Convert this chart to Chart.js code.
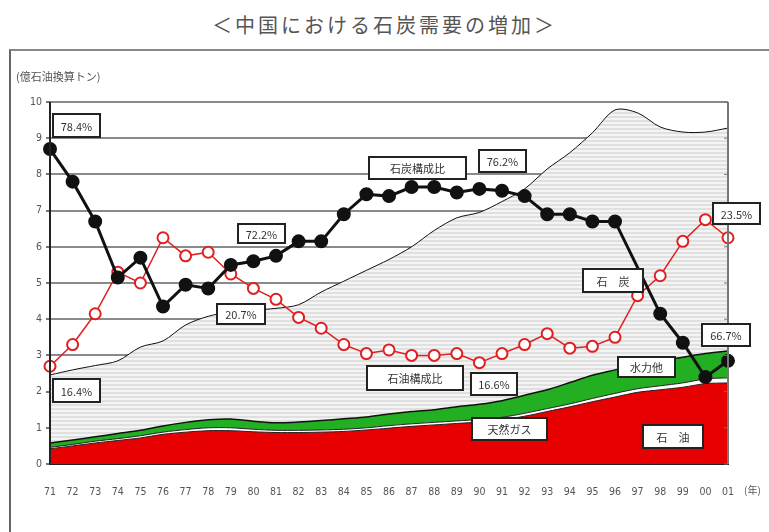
<!DOCTYPE html>
<html>
<head>
<meta charset="utf-8">
<script src="https://cdn.jsdelivr.net/npm/chart.js@4/dist/chart.umd.min.js"></script>
<style>
  body { margin: 0; background: #fff; width: 769px; height: 532px; overflow: hidden; position: relative; }
  #title { position: absolute; left: 0; top: 10px; width: 769px; text-align: center; font: 20px "Noto Sans CJK JP", sans-serif; letter-spacing: 3px; color: #555; }
  #frame { position: absolute; left: 9px; top: 49px; width: 800px; height: 600px; border-left: 2px solid #666; border-top: 2px solid #888; }
  #c { position: absolute; left: 0; top: 0; }
</style>
</head>
<body>
<div id="title">＜中国における石炭需要の増加＞</div>
<div id="frame"></div>
<canvas id="c" width="769" height="532"></canvas>
<script>
// 年 (1971-2001)
const years = ['71','72','73','74','75','76','77','78','79','80','81','82','83','84','85','86','87','88','89','90','91','92','93','94','95','96','97','98','99','00','01'];

// 需要 (億石油換算トン)
const oil   = [0.42,0.50,0.58,0.65,0.72,0.82,0.88,0.92,0.92,0.89,0.87,0.87,0.88,0.90,0.94,0.99,1.04,1.08,1.12,1.16,1.22,1.32,1.45,1.58,1.72,1.85,1.98,2.05,2.12,2.22,2.24];
const gas   = [0.04,0.04,0.05,0.05,0.06,0.06,0.07,0.08,0.08,0.07,0.06,0.06,0.06,0.06,0.06,0.07,0.07,0.07,0.07,0.07,0.07,0.08,0.08,0.08,0.09,0.10,0.10,0.11,0.12,0.13,0.14];
const hydro = [0.12,0.12,0.12,0.14,0.15,0.17,0.20,0.22,0.24,0.22,0.21,0.23,0.26,0.29,0.30,0.32,0.34,0.35,0.39,0.42,0.46,0.50,0.52,0.59,0.64,0.65,0.67,0.69,0.71,0.70,0.74];
const coal  = [1.88,1.94,1.97,2.01,2.30,2.35,2.69,2.86,2.96,3.07,3.16,3.24,3.55,3.80,4.05,4.27,4.55,4.95,5.22,5.30,5.50,5.70,6.10,6.35,6.70,7.18,6.95,6.46,6.22,6.12,6.16];

// 構成比 (%)
const coalShare = [78.4,76.6,74.4,71.3,72.4,69.7,70.9,70.7,72.0,72.2,72.5,73.3,73.3,74.8,75.9,75.8,76.3,76.3,76.0,76.2,76.1,75.8,74.8,74.8,74.4,74.4,null,69.3,67.7,65.8,66.7];
const oilShare  = [16.4,17.6,19.3,21.6,21.0,23.5,22.5,22.7,21.5,20.7,20.1,19.1,18.5,17.6,17.1,17.3,17.0,17.0,17.1,16.6,17.1,17.6,18.2,17.4,17.5,18.0,20.3,21.4,23.3,24.5,23.5];

const yTicks = [0,1,2,3,4,5,6,7,8,9,10];

// ラベル (box: x, y, w, h)
const notes = [
  { text: '78.4%', x: 53, y: 114, w: 47, h: 23 },
  { text: '16.4%', x: 53, y: 379, w: 47, h: 23 },
  { text: '72.2%', x: 238, y: 224, w: 47, h: 19 },
  { text: '20.7%', x: 217, y: 304, w: 48, h: 20 },
  { text: '石炭構成比', x: 369, y: 157, w: 97, h: 22 },
  { text: '76.2%', x: 479, y: 150, w: 47, h: 22 },
  { text: '石　炭', x: 583, y: 269, w: 60, h: 23 },
  { text: '23.5%', x: 713, y: 203, w: 47, h: 21 },
  { text: '66.7%', x: 702, y: 324, w: 48, h: 22 },
  { text: '水力他', x: 618, y: 357, w: 57, h: 20 },
  { text: '石油構成比', x: 367, y: 366, w: 96, h: 24 },
  { text: '16.6%', x: 471, y: 373, w: 46, h: 22 },
  { text: '天然ガス', x: 472, y: 418, w: 75, h: 22 },
  { text: '石　油', x: 643, y: 425, w: 60, h: 23 }
];

// hatch for coal area
const pc = document.createElement('canvas');
pc.width = 4; pc.height = 4;
const px = pc.getContext('2d');
px.fillStyle = '#f4f4f4'; px.fillRect(0, 0, 4, 4);
px.fillStyle = '#e0e0e0'; px.fillRect(0, 0, 4, 2);
const hatch = px.createPattern(pc, 'repeat');

const labelsPlugin = {
  id: 'notes',
  afterDraw(chart) {
    const ctx = chart.ctx;
    const a = chart.chartArea;
    ctx.save();
    // right frame with ticks
    ctx.strokeStyle = '#777';
    ctx.lineWidth = 2;
    ctx.beginPath();
    ctx.moveTo(a.right, a.top);
    ctx.lineTo(a.right, a.bottom);
    ctx.stroke();
    ctx.lineWidth = 1;
    const ys = chart.scales.y;
    yTicks.forEach(t => {
      const yy = ys.getPixelForValue(t);
      ctx.beginPath();
      ctx.moveTo(a.right - 4, yy);
      ctx.lineTo(a.right, yy);
      ctx.stroke();
    });
    // left axis
    ctx.strokeStyle = '#222';
    ctx.lineWidth = 2;
    ctx.beginPath();
    ctx.moveTo(a.left, a.top);
    ctx.lineTo(a.left, a.bottom);
    ctx.stroke();

    ctx.font = '11px "Noto Sans CJK JP", sans-serif';
    ctx.textAlign = 'center';
    ctx.textBaseline = 'middle';
    notes.forEach(n => {
      ctx.fillStyle = '#fff';
      ctx.fillRect(n.x, n.y, n.w, n.h);
      ctx.strokeStyle = '#222';
      ctx.lineWidth = 2;
      ctx.strokeRect(n.x, n.y, n.w, n.h);
      ctx.fillStyle = '#333';
      ctx.fillText(n.text, n.x + n.w / 2, n.y + n.h / 2 + 1);
    });

    ctx.fillStyle = '#555';
    ctx.textAlign = 'left';
    ctx.font = '11px "Noto Sans CJK JP", sans-serif';
    ctx.fillText('(億石油換算トン)', 16, 77);
    ctx.font = '10px "Noto Sans CJK JP", sans-serif';
    ctx.fillText('(年)', 744, 490);
    ctx.restore();
  }
};

const areaBase = { pointRadius: 0, tension: 0.3, yAxisID: 'y' };

new Chart(document.getElementById('c'), {
  type: 'line',
  data: {
    labels: years,
    datasets: [
      { label: '石炭構成比', data: coalShare, yAxisID: 'yCoal', borderColor: '#111', borderWidth: 3,
        pointRadius: 5.5, pointBackgroundColor: '#111', pointBorderColor: '#111', spanGaps: true, fill: false, tension: 0 },
      { label: '石油構成比', data: oilShare, yAxisID: 'yOil', borderColor: '#e02020', borderWidth: 1.5,
        pointRadius: 5.5, pointBorderWidth: 2, pointBackgroundColor: '#fff', pointBorderColor: '#e02020', fill: false, tension: 0 },
      { ...areaBase, label: '石油', data: oil, backgroundColor: '#e60000', borderColor: '#222', borderWidth: 1, fill: 'origin' },
      { ...areaBase, label: '天然ガス', data: gas, backgroundColor: '#ffffff', borderColor: '#222', borderWidth: 1, fill: '-1' },
      { ...areaBase, label: '水力他', data: hydro, backgroundColor: '#22b022', borderColor: '#111', borderWidth: 1.5, fill: '-1' },
      { ...areaBase, label: '石炭', data: coal, backgroundColor: hatch, borderColor: '#111', borderWidth: 1, fill: '-1' }
    ]
  },
  options: {
    responsive: false,
    animation: false,
    devicePixelRatio: 1,
    layout: { padding: { left: 20, top: 102, right: 41, bottom: 28 } },
    plugins: { legend: { display: false }, tooltip: { enabled: false } },
    scales: {
      x: {
        offset: false,
        grid: { display: false },
        border: { color: '#222', width: 2 },
        ticks: { autoSkip: false, maxRotation: 0, padding: 14, color: '#555',
          font: { family: 'DejaVu Sans Condensed', size: 10.5 } },
        afterFit(s) { s.height = 40; }
      },
      y: {
        stacked: true,
        min: 0, max: 10,
        afterBuildTicks(s) { s.ticks = yTicks.map(v => ({ value: v })); },
        grid: { color: '#8a8a8a', lineWidth: 2, tickLength: 4, tickColor: '#777' },
        border: { display: false },
        ticks: { color: '#555', padding: 4, font: { family: 'DejaVu Sans Condensed', size: 10.5 } },
        afterFit(s) { s.width = 30; }
      },
      yCoal: { display: false, min: 61, max: 81 },
      yOil: { display: false, min: 11, max: 31 }
    }
  },
  plugins: [labelsPlugin]
});
</script>
</body>
</html>
